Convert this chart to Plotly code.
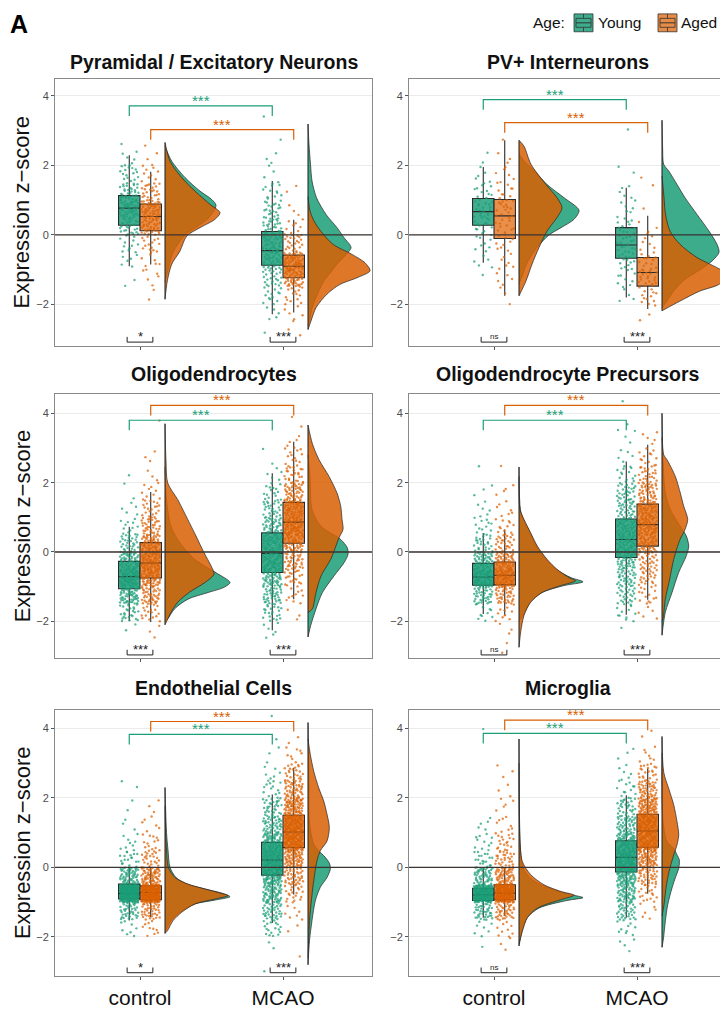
import plotly.graph_objects as go

# ====================== DATA ======================
panel_titles = ["Pyramidal / Excitatory Neurons", "PV+ Interneurons",
                "Oligodendrocytes", "Oligodendrocyte Precursors",
                "Endothelial Cells", "Microglia"]
conditions = ["control", "MCAO"]
age_groups = ["Young", "Aged"]
y_tick_vals = [-2, 0, 2, 4]
y_tick_text = ["\u22122", "0", "2", "4"]

# box statistics: [lower whisker, Q1, median, Q3, upper whisker]; [control, MCAO]
pyr_box_young = [[-0.90, 0.28, 0.77, 1.13, 2.29], [-2.28, -0.87, -0.45, 0.10, 1.55]]
pyr_box_aged = [[-0.85, 0.12, 0.53, 0.89, 1.82], [-2.23, -1.23, -0.90, -0.58, 0.44]]
pv_box_young = [[-0.80, 0.28, 0.67, 1.05, 1.95], [-1.80, -0.67, -0.29, 0.21, 1.36]]
pv_box_aged = [[-1.75, -0.10, 0.55, 1.02, 2.72], [-2.13, -1.47, -1.08, -0.65, 0.55]]
oligo_box_young = [[-1.99, -1.06, -0.71, -0.27, 0.73], [-2.26, -0.59, -0.04, 0.55, 2.27]]
oligo_box_aged = [[-2.02, -0.75, -0.32, 0.27, 1.73], [-1.36, 0.25, 0.86, 1.43, 3.18]]
opc_box_young = [[-1.79, -0.96, -0.72, -0.33, 0.55], [-1.81, -0.16, 0.36, 0.95, 2.61]]
opc_box_aged = [[-1.83, -0.95, -0.67, -0.29, 0.65], [-1.38, 0.17, 0.79, 1.38, 3.09]]
endo_box_young = [[-1.53, -0.91, -0.75, -0.48, 0.00], [-1.60, -0.22, 0.21, 0.72, 2.10]]
endo_box_aged = [[-1.43, -0.93, -0.72, -0.53, 0.00], [-0.78, 0.57, 1.02, 1.50, 2.87]]
micro_box_young = [[-1.45, -0.95, -0.79, -0.60, -0.02], [-1.45, -0.13, 0.29, 0.77, 2.08]]
micro_box_aged = [[-1.40, -0.93, -0.74, -0.50, 0.00], [-0.76, 0.58, 1.05, 1.53, 2.85]]

# jittered cells: counts per 0.5-wide z-score bin, bins start at -3.0 (15 bins up to 4.5)
bin_start = -3.0
bin_width = 0.5
pyr_cnt_young = [[0, 0, 0, 2, 6, 12, 28, 48, 32, 16, 6, 1, 0, 0, 0],
                 [1, 5, 14, 22, 34, 38, 30, 20, 12, 4, 3, 1, 1, 0, 0]]
pyr_cnt_aged = [[0, 0, 2, 5, 8, 14, 38, 48, 24, 9, 3, 1, 0, 0, 0],
                [2, 6, 14, 50, 62, 22, 10, 3, 2, 0, 0, 0, 0, 0, 0]]
pv_cnt_young = [[0, 0, 0, 1, 5, 8, 14, 18, 12, 5, 2, 0, 0, 0, 0],
                [0, 0, 4, 9, 14, 16, 12, 7, 5, 2, 0, 0, 1, 0, 0]]
pv_cnt_aged = [[0, 0, 3, 5, 7, 9, 12, 14, 10, 6, 3, 1, 0, 0, 0],
               [0, 3, 12, 20, 14, 6, 4, 1, 1, 1, 0, 0, 0, 0, 0]]
oligo_cnt_young = [[0, 2, 25, 60, 85, 55, 30, 12, 5, 2, 1, 0, 0, 0, 0],
                   [0, 6, 22, 38, 55, 65, 60, 42, 28, 15, 5, 2, 0, 0, 0]]
oligo_cnt_aged = [[0, 3, 18, 40, 65, 70, 55, 35, 20, 10, 3, 3, 0, 1, 0],
                  [0, 0, 3, 10, 22, 35, 55, 75, 68, 45, 25, 12, 5, 2, 0]]
opc_cnt_young = [[0, 0, 10, 40, 85, 55, 25, 12, 6, 3, 1, 0, 0, 0, 0],
                 [0, 1, 12, 25, 35, 45, 55, 50, 35, 28, 14, 5, 3, 2, 1]]
opc_cnt_aged = [[2, 3, 10, 38, 90, 55, 28, 12, 7, 4, 1, 0, 0, 0, 0],
                [0, 0, 5, 14, 22, 30, 48, 62, 58, 40, 25, 12, 5, 0, 0]]
endo_cnt_young = [[0, 0, 8, 40, 200, 60, 20, 8, 3, 2, 2, 0, 0, 0, 0],
                  [1, 2, 18, 40, 60, 85, 95, 70, 45, 30, 14, 6, 3, 1, 1]]
endo_cnt_aged = [[0, 0, 10, 40, 210, 65, 25, 12, 6, 3, 0, 0, 0, 0, 0],
                 [1, 0, 2, 8, 20, 40, 70, 110, 120, 80, 45, 25, 8, 2, 0]]
micro_cnt_young = [[0, 1, 8, 40, 170, 50, 20, 10, 5, 0, 0, 0, 0, 1, 0],
                   [0, 4, 10, 35, 55, 80, 90, 70, 45, 28, 12, 6, 3, 0, 0]]
micro_cnt_aged = [[0, 3, 10, 40, 180, 60, 30, 18, 8, 5, 3, 3, 0, 0, 0],
                  [0, 0, 0, 6, 18, 38, 65, 105, 115, 80, 45, 22, 7, 2, 0]]

# half-violin outlines: [z-score levels, relative density]; [control, MCAO]
pyr_dens_young = [
    [[2.55, 2.12, 1.65, 1.26, 1.02, 0.85, 0.5, 0.2, 0.0, -0.5, -1.0, -1.35],
     [0, 6.7, 20, 35, 46.7, 51, 44, 30, 20, 8, 3, 0]],
    [[3.19, 2.6, 2.03, 1.55, 1.07, 0.59, 0.21, -0.08, -0.36, -0.6, -0.84, -1.1, -1.32, -1.6, -1.8, -2.1, -2.4, -2.6],
     [0, 1, 2.5, 4, 8.5, 18, 29, 36, 43, 37, 29, 22, 16, 11, 8, 4, 2, 0]]]
pyr_dens_aged = [
    [[2.66, 2.12, 1.65, 1.26, 0.88, 0.64, 0.45, 0.21, -0.03, -0.46, -0.84, -1.32, -1.85],
     [0, 5, 16.7, 30, 45, 55, 50, 35, 21.7, 15, 6.7, 2.3, 0]],
    [[1.1, 0.69, 0.4, 0.11, -0.27, -0.56, -0.8, -1.03, -1.23, -1.42, -1.7, -2.09, -2.47, -2.72],
     [0, 2, 6, 12.7, 25, 44, 57, 62, 49, 32, 19, 8, 3, 0]]]
pv_dens_young = [
    [[2.33, 2.1, 1.88, 1.45, 1.07, 0.71, 0.45, 0.21, 0.0, -0.36, -0.8, -1.2, -1.4],
     [0, 6, 14, 28, 45, 60, 55, 42, 30, 18, 8, 3, 0]],
    [[3.3, 2.5, 2.03, 1.84, 1.45, 1.07, 0.59, 0.11, -0.27, -0.5, -0.75, -1.0, -1.3, -1.6, -1.9, -2.1],
     [0, 0.6, 1.7, 6.7, 15, 23, 35, 47, 55, 57, 50, 38, 22, 12, 5, 0]]]
pv_dens_aged = [
    [[2.72, 2.55, 2.03, 1.45, 1.07, 0.78, 0.5, 0.11, -0.36, -0.84, -1.32, -1.75],
     [0, 5, 12, 27, 38, 43, 38, 28, 20, 13, 7, 0]],
    [[1.7, 1.07, 0.59, 0.11, -0.27, -0.65, -0.84, -1.03, -1.25, -1.45, -1.61, -1.9, -2.1, -2.18],
     [0, 2, 3.5, 8, 18, 35, 48, 60, 65, 55, 38, 18, 5, 0]]]
oligo_dens_young = [
    [[2.45, 1.5, 0.73, 0.26, -0.22, -0.6, -0.88, -1.02, -1.17, -1.36, -1.64, -1.93, -2.0],
     [0, 1.5, 6, 15, 30, 51, 65, 59, 43, 23, 9.6, 2.7, 0]],
    [[2.8, 2.18, 1.22, 0.74, 0.36, 0.12, -0.07, -0.31, -0.69, -1.17, -1.64, -2.12, -2.45],
     [0, 2, 4, 13, 32.7, 39.3, 40, 36, 26, 14.4, 8, 2.7, 0]]]
oligo_dens_aged = [
    [[3.7, 2.6, 1.99, 1.51, 0.94, 0.46, -0.02, -0.4, -0.64, -0.88, -1.17, -1.45, -1.74, -1.98, -2.1],
     [0, 1, 2.7, 12.7, 22.7, 31, 39, 46, 49, 40, 24, 12.7, 6, 2, 0]],
    [[3.66, 3.13, 2.66, 2.18, 1.7, 1.32, 0.94, 0.65, 0.41, -0.21, -0.69, -1.17, -1.64, -1.75],
     [0, 4.3, 11, 21, 29, 32.7, 34, 35, 31, 22.7, 13, 8, 4.3, 0]]]
opc_dens_young = [
    [[2.45, 1.2, 0.9, 0.55, 0.17, -0.21, -0.5, -0.74, -0.86, -0.97, -1.17, -1.45, -1.83, -2.0],
     [0, 1.5, 5, 11, 17.5, 27, 37, 52, 64, 45, 23, 11, 4, 0]],
    [[4.0, 2.66, 1.7, 1.22, 0.74, 0.46, 0.17, -0.11, -0.59, -1.17, -1.74, -2.4],
     [0, 1, 3.3, 8.3, 18.3, 24.3, 26.7, 24.3, 16.7, 10, 3.3, 0]]]
opc_dens_aged = [
    [[2.18, 1.22, 0.94, 0.55, 0.17, -0.21, -0.5, -0.74, -0.83, -0.97, -1.17, -1.45, -1.83, -2.3, -2.75],
     [0, 1, 5, 11.7, 18.3, 28, 38, 50, 56.7, 41.7, 23, 11.7, 5, 1.7, 0]],
    [[3.3, 2.8, 2.66, 2.18, 1.7, 1.32, 0.94, 0.65, 0.36, -0.21, -0.78, -1.36, -1.93, -2.0],
     [0, 1.7, 5, 13.3, 18.3, 21.7, 25.7, 23, 18, 11.7, 7.7, 3.3, 1, 0]]]
endo_dens_young = [
    [[2.3, 1.0, 0.5, 0.0, -0.29, -0.48, -0.62, -0.75, -0.84, -0.95, -1.05, -1.29, -1.53, -1.86],
     [0, 1.5, 3, 5, 11, 22, 40, 58, 65, 48, 30, 15, 6, 0]],
    [[4.17, 2.29, 1.34, 0.67, 0.48, 0.29, 0.1, -0.05, -0.29, -0.57, -0.96, -1.53, -2.1, -2.8],
     [0, 1, 1.3, 5.7, 10.7, 17.3, 21.7, 22.3, 19, 12.3, 7.3, 4, 1.5, 0]]]
endo_dens_aged = [
    [[1.77, 1.0, 0.5, 0.0, -0.29, -0.48, -0.62, -0.75, -0.81, -0.91, -1.05, -1.29, -1.53, -1.81, -1.9],
     [0, 0.7, 1.5, 3.3, 10, 23, 40, 56.7, 63, 50, 30, 16.7, 8, 2.7, 0]],
    [[3.7, 3.25, 2.77, 2.29, 1.91, 1.53, 1.15, 0.76, 0.48, 0.19, -0.38, -1.05, -1.53, -2.6],
     [0, 2.3, 5.7, 10.7, 15.7, 19, 21.3, 19, 12.3, 9, 5.7, 3, 1.5, 0]]]
micro_dens_young = [
    [[3.7, 1.4, 0.5, 0.0, -0.3, -0.5, -0.69, -0.8, -0.87, -0.95, -1.17, -1.45, -1.84, -2.26],
     [0, 0.5, 1.5, 4, 11, 22, 40, 55, 64, 48, 20, 8, 3, 0]],
    [[3.3, 1.32, 0.74, 0.55, 0.36, 0.22, -0.02, -0.3, -0.59, -1.07, -1.55, -2.03, -2.3],
     [0, 1, 5, 11.7, 15, 17.3, 16.7, 13.3, 10, 5.7, 3.3, 1.5, 0]]]
micro_dens_aged = [
    [[3.0, 0.74, 0.17, -0.21, -0.5, -0.69, -0.8, -0.93, -1.17, -1.45, -1.84, -2.2],
     [0, 1, 3.3, 11.7, 25, 41.7, 55, 41.7, 18.3, 8.3, 3.3, 0]],
    [[3.77, 2.74, 2.27, 1.8, 1.32, 0.94, 0.65, 0.36, -0.12, -0.59, -1.07, -1.4],
     [0, 1.7, 6.7, 11.7, 15, 16.7, 15, 11.7, 7, 4, 2, 0]]]

# significance labels
young_vs_aged_labels = [["*", "***"], ["ns", "***"], ["***", "***"],
                        ["ns", "***"], ["*", "***"], ["ns", "***"]]
control_vs_mcao_label = "***"

# ====================== LAYOUT / STYLE ======================
W, H = 720, 1009
FONT = "Liberation Sans, Arial, Helvetica, sans-serif"
TEAL = (27, 158, 119)
ORANGE = (217, 95, 2)
BOX_TEAL = (40, 162, 128)
BOX_ORANGE = (228, 128, 50)
COL_PX = [(55, 372), (409, 720)]
ROW_PX = [(80, 348), (397, 663), (715, 983)]
Y_RANGES = [(-3.18, 4.47), (-3.07, 4.55), (-3.13, 4.53)]
X_LO = 0.4056
PX_PER_X = 143.0
DODGE = 0.075
BOX_W = 0.15
JIT = 0.065
VIOLIN_OFF = 0.175
DENS_SCALE = 1.0 / PX_PER_X
# bracket heights (young-bracket y, aged-bracket y)
TOP_BRACKETS = [(3.71, 3.03), (3.89, 3.23), (3.80, 4.23), (3.80, 4.23), (3.83, 4.20), (3.86, 4.24)]
DROP = 0.29


def rgba(c, a):
    return "rgba(%d,%d,%d,%.3f)" % (c[0], c[1], c[2], a)


def px_x(p):
    return p / W


def px_y(p):
    return 1 - p / H


def halton(idx, base):
    f, r = 1.0, 0.0
    while idx > 0:
        f /= base
        r += f * (idx % base)
        idx //= base
    return r


panels = [
    (pyr_box_young, pyr_box_aged, pyr_cnt_young, pyr_cnt_aged, pyr_dens_young, pyr_dens_aged),
    (pv_box_young, pv_box_aged, pv_cnt_young, pv_cnt_aged, pv_dens_young, pv_dens_aged),
    (oligo_box_young, oligo_box_aged, oligo_cnt_young, oligo_cnt_aged, oligo_dens_young, oligo_dens_aged),
    (opc_box_young, opc_box_aged, opc_cnt_young, opc_cnt_aged, opc_dens_young, opc_dens_aged),
    (endo_box_young, endo_box_aged, endo_cnt_young, endo_cnt_aged, endo_dens_young, endo_dens_aged),
    (micro_box_young, micro_box_aged, micro_cnt_young, micro_cnt_aged, micro_dens_young, micro_dens_aged),
]

fig = go.Figure()
shapes = []
annotations = []


def jitter_points(counts, center, seed):
    """Place each counted cell inside its bin; x is a layout jitter."""
    xs, ys = [], []
    k = seed
    for i, n in enumerate(counts):
        lo = bin_start + i * bin_width
        for j in range(n):
            ys.append(lo + halton(k + 1, 3) * bin_width)
            xs.append(center + JIT * (2 * halton(k + 1, 2) - 1))
            k += 1
    return xs, ys


for i, (by, ba, cy, ca, dy, da) in enumerate(panels):
    r, c = divmod(i, 2)
    sfx = "" if i == 0 else str(i + 1)
    xa, ya = "x" + sfx, "y" + sfx
    colors = [TEAL, ORANGE]
    box_colors = [BOX_TEAL, BOX_ORANGE]
    boxes = [by, ba]
    counts = [cy, ca]
    dens = [dy, da]

    for ci in range(2):
        cat = ci + 1
        # boxes
        for gi in range(2):
            st = boxes[gi][ci]
            cx = cat - DODGE if gi == 0 else cat + DODGE
            fig.add_trace(go.Box(
                x=[cx], lowerfence=[st[0]], q1=[st[1]], median=[st[2]], q3=[st[3]], upperfence=[st[4]],
                width=BOX_W, whiskerwidth=0, boxpoints=False,
                fillcolor=rgba(box_colors[gi], 0.88), line=dict(color="#2b2b2b", width=1.1),
                xaxis=xa, yaxis=ya, showlegend=False, hoverinfo="skip"))
        # points
        for gi in range(2):
            cx = cat - DODGE if gi == 0 else cat + DODGE
            xs, ys = jitter_points(counts[gi][ci], cx, 17 + 131 * (i * 4 + ci * 2 + gi))
            fig.add_trace(go.Scatter(
                x=xs, y=ys, mode="markers",
                marker=dict(size=2.4, color=rgba(colors[gi], 0.72), line=dict(width=0)),
                xaxis=xa, yaxis=ya, showlegend=False, hoverinfo="skip"))
        # half violins
        base = cat + VIOLIN_OFF
        lo_all, hi_all = 10, -10
        for gi in range(2):
            lev, wid = dens[gi][ci]
            lo_all = min(lo_all, min(lev))
            hi_all = max(hi_all, max(lev))
            fig.add_trace(go.Scatter(
                x=[base + w * DENS_SCALE for w in wid], y=lev, mode="lines", fill="toself",
                fillcolor=rgba(colors[gi], 0.85),
                line=dict(color="rgba(40,40,40,0.9)", width=0.8, shape="spline", smoothing=0.8),
                xaxis=xa, yaxis=ya, showlegend=False, hoverinfo="skip"))
        fig.add_trace(go.Scatter(
            x=[base, base], y=[lo_all, hi_all], mode="lines",
            line=dict(color="#2a2a2a", width=1.1),
            xaxis=xa, yaxis=ya, showlegend=False, hoverinfo="skip"))

    # axes
    x_hi = X_LO + (COL_PX[c][1] - COL_PX[c][0]) / PX_PER_X
    fig.layout["xaxis" + sfx] = dict(
        domain=[px_x(COL_PX[c][0]), px_x(COL_PX[c][1])], range=[X_LO, x_hi], anchor=ya,
        tickvals=[1, 2], ticktext=conditions, showticklabels=(r == 2),
        tickfont=dict(size=21, color="#111111", family=FONT),
        ticks="outside", ticklen=3, tickcolor="#555555", tickwidth=1,
        showline=True, mirror=True, linecolor="#8a8a8a", linewidth=1,
        showgrid=False, zeroline=False, fixedrange=True)
    fig.layout["yaxis" + sfx] = dict(
        domain=[px_y(ROW_PX[r][1]), px_y(ROW_PX[r][0])], range=list(Y_RANGES[r]), anchor=xa,
        tickvals=y_tick_vals, ticktext=y_tick_text,
        tickfont=dict(size=11, color="#4d4d4d", family=FONT),
        ticks="outside", ticklen=3, tickcolor="#555555", tickwidth=1,
        showline=True, mirror=(c == 0), linecolor="#8a8a8a", linewidth=1,
        showgrid=True, gridcolor="#ebebeb", gridwidth=1, zeroline=False, fixedrange=True)

    # zero line
    shapes.append(dict(type="line", xref=xa + " domain", yref=ya, x0=0, x1=1, y0=0, y1=0,
                       line=dict(color="#3a3330", width=1.3), layer="above"))

    # top brackets (control vs MCAO within each age group)
    for gi, off in enumerate([-DODGE, DODGE]):
        yl = TOP_BRACKETS[i][gi]
        x0, x1 = 1 + off, 2 + off
        col = rgba(colors[gi], 1.0)
        shapes.append(dict(type="path", xref=xa, yref=ya,
                           path="M %f,%f L %f,%f L %f,%f L %f,%f" % (x0, yl - DROP, x0, yl, x1, yl, x1, yl - DROP),
                           line=dict(color=col, width=1.2), layer="above"))
        annotations.append(dict(xref=xa, yref=ya, x=(x0 + x1) / 2, y=yl, text=control_vs_mcao_label,
                                showarrow=False, yanchor="bottom", yshift=-5,
                                font=dict(size=15, color=col, family=FONT)))

    # bottom brackets (young vs aged)
    ymin = Y_RANGES[r][0]
    for ci in range(2):
        cat = ci + 1
        x0, x1 = cat - DODGE - 0.015, cat + DODGE + 0.015
        yl, yt = ymin + 0.10, ymin + 0.25
        shapes.append(dict(type="path", xref=xa, yref=ya,
                           path="M %f,%f L %f,%f L %f,%f L %f,%f" % (x0, yt, x0, yl, x1, yl, x1, yt),
                           line=dict(color="#222222", width=1.0), layer="above"))
        lab = young_vs_aged_labels[i][ci]
        annotations.append(dict(xref=xa, yref=ya, x=cat, y=yl, text=lab, showarrow=False,
                                yanchor="bottom", yshift=(-4 if lab != "ns" else -1),
                                font=dict(size=(13 if lab != "ns" else 8), color="#222222", family=FONT)))

    # panel title
    cx_px = (COL_PX[0][0] + COL_PX[0][1]) / 2 if c == 0 else (409 + 317 / 2)
    title_y = [62, 377, 693][r]
    annotations.append(dict(xref="paper", yref="paper", x=px_x(cx_px), y=px_y(title_y),
                            text="<b>%s</b>" % panel_titles[i], showarrow=False,
                            xanchor="center", yanchor="middle",
                            font=dict(size=19.5, color="#111111", family=FONT)))
    # y axis title (left column only)
    if c == 0:
        annotations.append(dict(xref="paper", yref="paper", x=px_x(22),
                                y=px_y((ROW_PX[r][0] + ROW_PX[r][1]) / 2),
                                text="Expression z\u2212score", textangle=-90, showarrow=False,
                                xanchor="center", yanchor="middle",
                                font=dict(size=22, color="#111111", family=FONT)))

# panel label
annotations.append(dict(xref="paper", yref="paper", x=px_x(8), y=px_y(24), text="<b>A</b>",
                        showarrow=False, xanchor="left", yanchor="middle",
                        font=dict(size=25, color="#000000", family=FONT)))

# legend
annotations.append(dict(xref="paper", yref="paper", x=px_x(531), y=px_y(23), text="Age:",
                        showarrow=False, xanchor="left", yanchor="middle",
                        font=dict(size=15.5, color="#111111", family=FONT)))
legend_keys = [(574, BOX_TEAL, 596, age_groups[0]), (658, BOX_ORANGE, 679, age_groups[1])]
for kx, col, tx, lab in legend_keys:
    x0, x1, y0, y1 = kx, kx + 19, 14, 32
    shapes.append(dict(type="rect", xref="paper", yref="paper", x0=px_x(x0), x1=px_x(x1),
                       y0=px_y(y1), y1=px_y(y0), fillcolor=rgba(col, 0.9),
                       line=dict(color="#333333", width=0.8)))
    shapes.append(dict(type="rect", xref="paper", yref="paper", x0=px_x(x0 + 2), x1=px_x(x1 - 2),
                       y0=px_y(y1 - 4.5), y1=px_y(y0 + 4.5), fillcolor="rgba(0,0,0,0)",
                       line=dict(color="#333333", width=0.8)))
    shapes.append(dict(type="line", xref="paper", yref="paper", x0=px_x(x0 + 2), x1=px_x(x1 - 2),
                       y0=px_y(23), y1=px_y(23), line=dict(color="#333333", width=1)))
    for ya0, ya1 in [(y0, y0 + 4.5), (y1 - 4.5, y1)]:
        shapes.append(dict(type="line", xref="paper", yref="paper", x0=px_x(kx + 9.5), x1=px_x(kx + 9.5),
                           y0=px_y(ya0), y1=px_y(ya1), line=dict(color="#333333", width=0.8)))
    annotations.append(dict(xref="paper", yref="paper", x=px_x(tx), y=px_y(23), text=lab,
                            showarrow=False, xanchor="left", yanchor="middle",
                            font=dict(size=15.5, color="#111111", family=FONT)))

fig.update_layout(
    width=W, height=H, margin=dict(l=0, r=0, t=0, b=0),
    paper_bgcolor="white", plot_bgcolor="white",
    font=dict(family=FONT), showlegend=False,
    shapes=shapes, annotations=annotations, boxmode="overlay")

fig.write_html("out.html")
